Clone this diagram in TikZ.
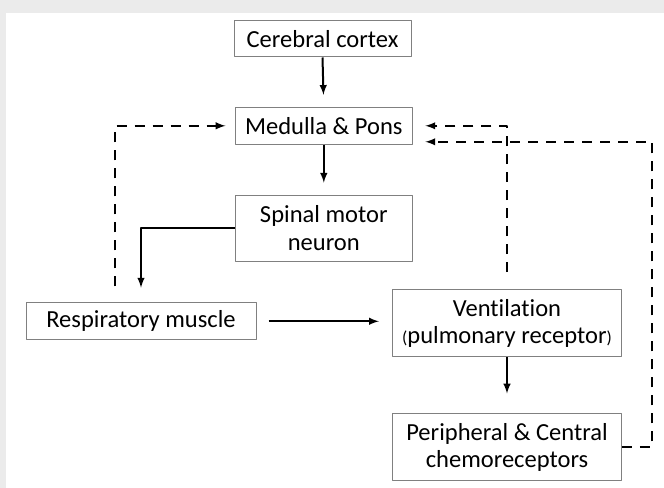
\documentclass[tikz,border=0pt]{standalone}
\usepackage{fontspec}
\setmainfont[Ligatures=NoCommon]{Carlito}
\usetikzlibrary{arrows}

\begin{document}
\begin{tikzpicture}[line join=round,>=latex,x=0.75pt,y=-0.75pt,
box/.style={draw=black!50,line width=0.75pt,align=center,inner sep=0pt,font=\fontsize{18.4}{20.5}\selectfont},
flow/.style={->,line width=1.5pt,shorten >=9pt},
fb/.style={->,line width=1.5pt,dash pattern=on 7.5pt off 6pt,shorten >=9.5pt}]
\useasboundingbox (0,0) rectangle (664,488);
\fill[color=black!8] (0,0) rectangle (664,488);
\fill[color=white] (6,13) rectangle (664,488);
%boxes
\node[box,minimum width=132.75pt,minimum height=27pt] (cortex) at (322.5,39) {Cerebral cortex};
\node[box,minimum width=132.75pt,minimum height=27.75pt] (medulla) at (323.8,125.8) {Medulla \& Pons};
\node[box,minimum width=132.75pt,minimum height=49.5pt] (spinal) at (323.8,228.2) {Spinal motor\\neuron};
\node[box,minimum width=172.5pt,minimum height=27.75pt] (resp) at (141,321.3) {Respiratory muscle};
\node[box,minimum width=171.5pt,minimum height=50pt] (vent) at (507,323.3) {Ventilation\\{\fontsize{13}{15}\selectfont(}pulmonary receptor{\fontsize{13}{15}\selectfont)}};
\node[box,minimum width=171.5pt,minimum height=50pt] (periph) at (507,447.3) {Peripheral \& Central\\chemoreceptors};
%solid
\draw[flow] (cortex.south) -- (medulla.north);
\draw[flow] (medulla.south) -- (spinal.north);
\draw[flow,shorten >=11pt] (spinal.west) -| (resp.north);
\draw[flow,shorten <=9pt,shorten >=10pt] (resp.east) -- (resp.east -| vent.west);
\draw[flow,shorten >=15pt] (vent.south) -- (periph.north);
%dashed
\draw[fb,shorten <=12pt,shorten >=7pt] ([xshift=-19.5pt]resp.north) |- (medulla.west);
\draw[fb,shorten <=13pt] (vent.north) |- (medulla.east);
\coordinate (chemo) at ([yshift=-12pt]medulla.east);
\coordinate (rside) at (652,447.3);
\draw[fb] (periph.east) -- (rside) -- (rside |- chemo) -- (chemo);
\end{tikzpicture}
\end{document}
